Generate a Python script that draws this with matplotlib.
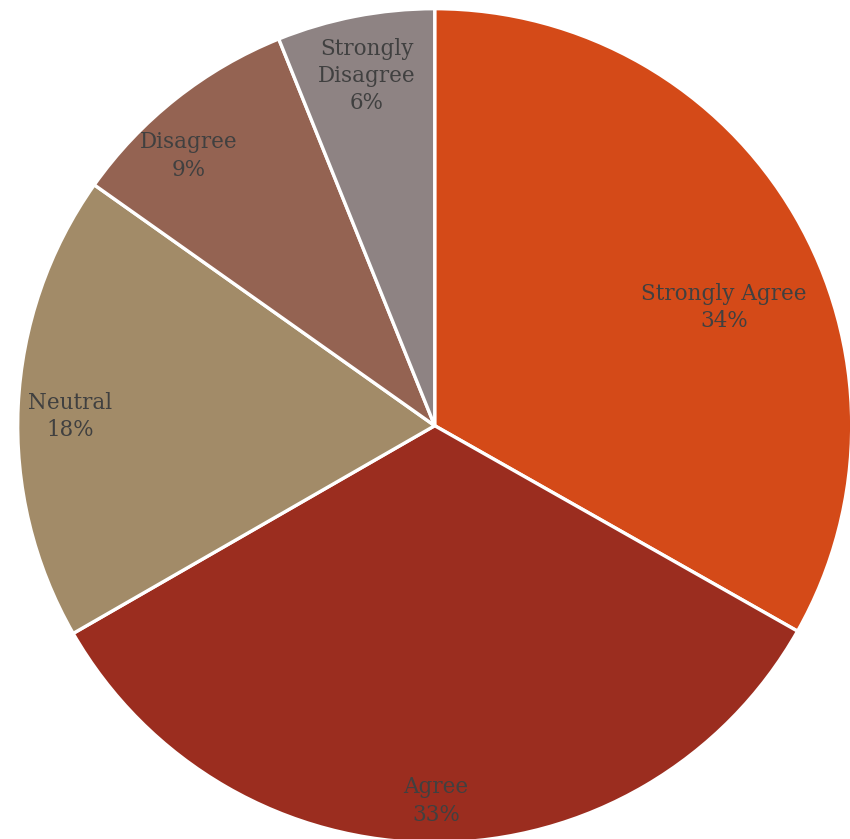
import numpy as np
import matplotlib
matplotlib.use("Agg")
import matplotlib.pyplot as plt

# data (slice sizes from the wedge angles)
categories = ["Strongly Agree", "Agree", "Neutral", "Disagree", "Strongly\nDisagree"]
shares = [33.2, 33.5, 18.1, 9.1, 6.1]
pct_labels = ["34%", "33%", "18%", "9%", "6%"]
colors = ["#D44A18", "#9B2D1F", "#A28B68", "#946352", "#8E8383"]

# label placement (fraction of radius, angle shift in degrees)
label_r = [0.75, 0.90, 0.875, 0.875, 0.855]
label_shift = [-8.0, 0.0, 1.2, 4.0, 0.0]

W, H = 850, 839
cx, cy, R = 434.7, 425.7, 417.0

fig = plt.figure(figsize=(W / 100, H / 100), dpi=100)
ax = fig.add_axes([0, 0, 1, 1])
wedges, _ = ax.pie(shares, colors=colors, startangle=90, counterclock=False,
                   radius=1.0, wedgeprops=dict(edgecolor="white", linewidth=2.4))

for w, cat, pct, r, sh in zip(wedges, categories, pct_labels, label_r, label_shift):
    ang = np.deg2rad((w.theta1 + w.theta2) / 2 + sh)
    ax.text(r * np.cos(ang), r * np.sin(ang), cat + "\n" + pct,
            ha="center", va="center", fontsize=15.5, color="#404040",
            family="DejaVu Serif", linespacing=1.3)

ax.set_xlim(-cx / R, (W - cx) / R)
ax.set_ylim(-(H - cy) / R, cy / R)
ax.set_aspect("auto")
ax.axis("off")

fig.savefig("out.png", dpi=100, facecolor="white")
